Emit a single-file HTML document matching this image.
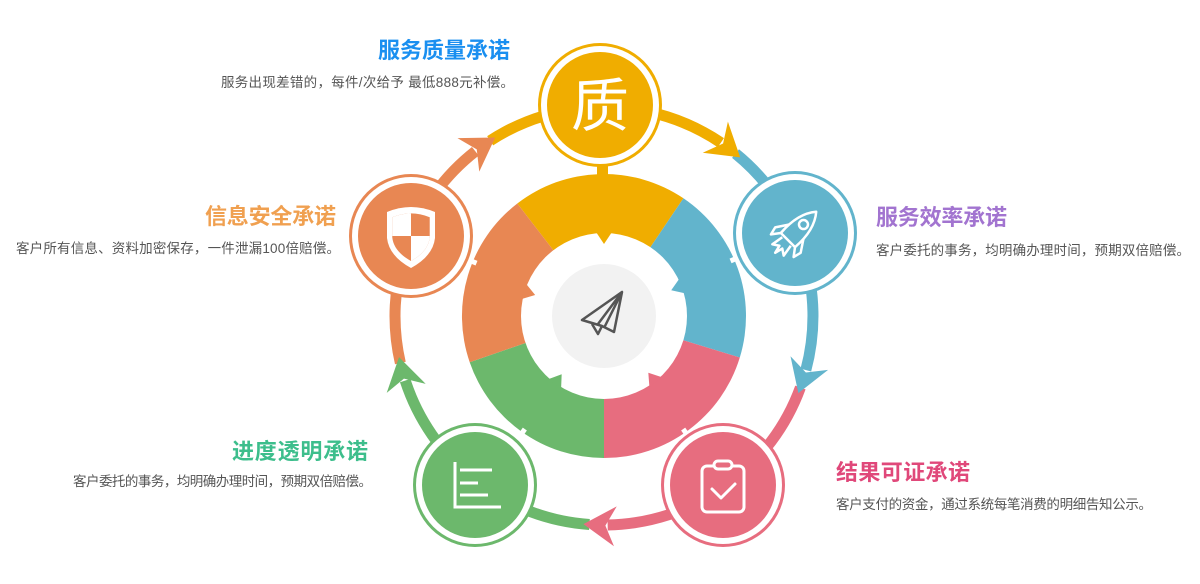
<!DOCTYPE html>
<html><head><meta charset="utf-8"><style>
html,body{margin:0;padding:0;background:#fff;}
svg{display:block;}
text{font-family:"Liberation Sans","Noto Sans CJK SC",sans-serif;}
.t{font-size:22px;font-weight:bold;}
.d{font-size:13.5px;fill:#555;}
</style></head><body>
<svg width="1200" height="584" viewBox="0 0 1200 584" xmlns="http://www.w3.org/2000/svg">
<defs>
<clipPath id="sh"><path transform="translate(411,236) scale(0.78)" d="M-24,-24 Q0,-34 24,-24 L24,2 Q22,20 0,32 Q-22,20 -24,2 Z"/></clipPath>
</defs>

<g transform="translate(604,316)">
  <path d="M0,0 L-86.7,-112.5 A142,142 0 0 1 79.4,-117.7 Z" fill="#F0AD00"/>
  <path d="M0,0 L79.4,-117.7 A142,142 0 0 1 135.8,41.5 Z" fill="#62B4CC"/>
  <path d="M0,0 L135.8,41.5 A142,142 0 0 1 0,142 Z" fill="#E76D7F"/>
  <path d="M0,0 L0,142 A142,142 0 0 1 -134.3,46.2 Z" fill="#6CB86C"/>
  <path d="M0,0 L-134.3,46.2 A142,142 0 0 1 -86.7,-112.5 Z" fill="#E88753"/>
  <circle r="83" fill="#fff"/>
  <g fill="#F0AD00"><polygon points="-8,-84 8,-84 0,-72"/></g>
  <g fill="#62B4CC"><polygon points="-8,-84 8,-84 0,-72" transform="rotate(69)"/></g>
  <g fill="#E76D7F"><polygon points="-8,-84 8,-84 0,-72" transform="rotate(142)"/></g>
  <g fill="#6CB86C"><polygon points="-8,-84 8,-84 0,-72" transform="rotate(216)"/></g>
  <g fill="#E88753"><polygon points="-8,-84 8,-84 0,-72" transform="rotate(287)"/></g>
  <circle r="52" fill="#F2F2F2"/>
  <g fill="none" stroke="#555" stroke-width="2.5" stroke-linejoin="round">
    <path d="M-22,4 L18,-24 L10,16 L-2,10 Z"/>
    <path d="M-12,8 L-6,18 L-2,10"/>
    <path d="M18,-24 L-6,8 M18,-24 L0,12"/>
  </g>
</g>

<g fill="none" stroke-width="11" transform="translate(604,316)">
  <path d="M0,-209 A209,209 0 0 1 192.4,-81.7" stroke="#F0AD00" transform="rotate(-33)"/>
  <path d="M0,-209 A209,209 0 0 1 190.9,-85.0" stroke="#62B4CC" transform="rotate(39)"/>
  <path d="M0,-209 A209,209 0 0 1 195.1,-74.9" stroke="#E76D7F" transform="rotate(110)"/>
  <path d="M0,-209 A209,209 0 0 1 193.8,-78.3" stroke="#6CB86C" transform="rotate(184)"/>
  <path d="M0,-209 A209,209 0 0 1 189.4,-88.3" stroke="#E88753" transform="rotate(257)"/>
</g>
<g transform="translate(604,316)">
  <polygon points="6,-209 -26,-229 -16,-209 -26,-189" fill="#F0AD00" transform="rotate(39)"/>
  <polygon points="6,-209 -26,-229 -16,-209 -26,-189" fill="#62B4CC" transform="rotate(110)"/>
  <polygon points="6,-209 -26,-229 -16,-209 -26,-189" fill="#E76D7F" transform="rotate(184)"/>
  <polygon points="6,-209 -26,-229 -16,-209 -26,-189" fill="#6CB86C" transform="rotate(257)"/>
  <polygon points="6,-209 -26,-229 -16,-209 -26,-189" fill="#E88753" transform="rotate(327)"/>
</g>

<rect x="597" y="160" width="11" height="20" fill="#F0AD00"/>
<g stroke="#fff" stroke-width="5" transform="translate(604,316)">
  <line x1="0" y1="-138" x2="0" y2="-152" transform="rotate(66.5)"/>
  <line x1="0" y1="-138" x2="0" y2="-152" transform="rotate(145)"/>
  <line x1="0" y1="-138" x2="0" y2="-152" transform="rotate(215)"/>
  <line x1="0" y1="-138" x2="0" y2="-152" transform="rotate(292.5)"/>
</g>

<g><circle cx="600" cy="105" r="62" fill="#F0AD00"/><circle cx="600" cy="105" r="59" fill="#fff"/><circle cx="600" cy="105" r="53" fill="#F0AD00"/></g>
<g><circle cx="795" cy="233" r="62" fill="#62B4CC"/><circle cx="795" cy="233" r="59" fill="#fff"/><circle cx="795" cy="233" r="53" fill="#62B4CC"/></g>
<g><circle cx="723" cy="485" r="62" fill="#E76D7F"/><circle cx="723" cy="485" r="59" fill="#fff"/><circle cx="723" cy="485" r="53" fill="#E76D7F"/></g>
<g><circle cx="475" cy="485" r="62" fill="#6CB86C"/><circle cx="475" cy="485" r="59" fill="#fff"/><circle cx="475" cy="485" r="53" fill="#6CB86C"/></g>
<g><circle cx="411" cy="236" r="62" fill="#E88753"/><circle cx="411" cy="236" r="59" fill="#fff"/><circle cx="411" cy="236" r="53" fill="#E88753"/></g>

<text x="600" y="126" text-anchor="middle" font-size="58" fill="#fff">质</text>

<path transform="translate(411,236)" d="M-24,-24 Q0,-34 24,-24 L24,2 Q22,20 0,32 Q-22,20 -24,2 Z" fill="#fff"/>
<path transform="translate(411,236) scale(0.78)" d="M-24,-24 Q0,-34 24,-24 L24,2 Q22,20 0,32 Q-22,20 -24,2 Z" fill="#E88753"/>
<g clip-path="url(#sh)" fill="#fff">
  <rect x="380" y="200" width="31" height="36"/>
  <rect x="411" y="236" width="31" height="36"/>
</g>

<g transform="translate(795,233) rotate(45)" fill="none" stroke="#fff" stroke-width="2.5" stroke-linejoin="round">
  <path d="M0,-30 Q12,-16 10,10 L-10,10 Q-12,-16 0,-30 Z"/>
  <circle cx="0" cy="-12" r="4.5"/>
  <path d="M-10,-2 L-18,10 L-16,18 L-10,10"/>
  <path d="M10,-2 L18,10 L16,18 L10,10"/>
  <path d="M-6,12 L-8,24 L-2,20 L0,28 L2,20 L8,24 L6,12"/>
</g>

<g stroke="#fff" stroke-width="3" fill="none">
  <path d="M455,462 L455,507 L501,507"/>
  <line x1="460" y1="470" x2="492" y2="470"/>
  <line x1="460" y1="483" x2="478" y2="483"/>
  <line x1="460" y1="495" x2="488" y2="495"/>
</g>

<g stroke="#fff" stroke-width="3" fill="none" stroke-linejoin="round" stroke-linecap="round">
  <rect x="702" y="466" width="42" height="46" rx="5"/>
  <rect x="714" y="461" width="18" height="8" rx="4" fill="#E76D7F"/>
  <path d="M712,489 L721,498 L735,484"/>
</g>

<text class="t" x="378" y="58" textLength="132" fill="#1A8FF0">服务质量承诺</text>
<text class="d" x="221" y="87" textLength="293">服务出现差错的，每件/次给予 最低888元补偿。</text>

<text class="t" x="205" y="224" textLength="131" fill="#F0A050">信息安全承诺</text>
<text class="d" x="16" y="253" textLength="324">客户所有信息、资料加密保存，一件泄漏100倍赔偿。</text>

<text class="t" x="876" y="225" textLength="131" fill="#A274D0">服务效率承诺</text>
<text class="d" x="876" y="255" textLength="314">客户委托的事务，均明确办理时间，预期双倍赔偿。</text>

<text class="t" x="232" y="459" textLength="136" fill="#3DBE8C">进度透明承诺</text>
<text class="d" x="73" y="486" textLength="299">客户委托的事务，均明确办理时间，预期双倍赔偿。</text>

<text class="t" x="836" y="480" textLength="134" fill="#E0487A">结果可证承诺</text>
<text class="d" x="836" y="509" textLength="316">客户支付的资金，通过系统每笔消费的明细告知公示。</text>
</svg>
</body></html>
